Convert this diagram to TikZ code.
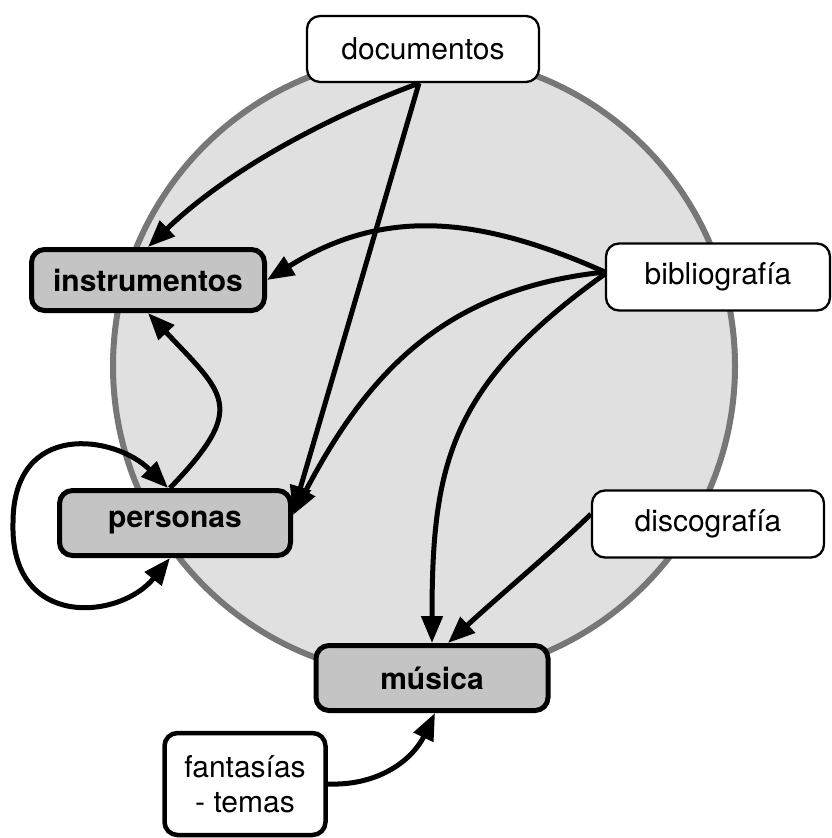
\documentclass[tikz,border=0pt]{standalone}
\usepackage{fontspec}
\setmainfont{TeX Gyre Heros}
\usetikzlibrary{arrows.meta}
\definecolor{circfill}{HTML}{E0E0E0}
\definecolor{circline}{HTML}{777777}
\definecolor{nodegray}{HTML}{C4C4C4}
\begin{document}
\begin{tikzpicture}[x=1pt,y=-1pt,
  wbox/.style={draw=black, fill=white, line width=2.3pt, rounded corners=13pt,
    font=\fontsize{30}{35}\selectfont, align=center, inner sep=0pt},
  gbox/.style={draw=black, fill=nodegray, line width=5pt, rounded corners=13pt,
    font=\fontsize{30}{35}\selectfont\bfseries, inner sep=0pt},
  edge/.style={line width=5pt, -{Triangle[length=27pt,width=21pt]}},
  loopedge/.style={line width=5pt, {Triangle[length=27pt,width=21pt]}-{Triangle[length=27pt,width=21pt]}},
]
\useasboundingbox (0,0) rectangle (831,838);
\draw[draw=circline, line width=6pt, fill=circfill] (424,366) circle[radius=311];

\node[wbox, minimum width=232pt, minimum height=66pt] (doc) at (423,49) {documentos};
\node[gbox, minimum width=233pt, minimum height=61pt] (ins) at (148,280) {instrumentos};
\node[gbox, minimum width=231pt, minimum height=65pt] (per) at (175,523) {personas};
\node[wbox, minimum width=224pt, minimum height=67pt] (bib) at (718,277) {bibliografía};
\node[wbox, minimum width=232pt, minimum height=67pt] (disc) at (708,524) {discografía};
\node[gbox, minimum width=232pt, minimum height=65pt] (mus) at (432,678) {música};
\node[wbox, minimum width=161pt, minimum height=102pt, line width=4.5pt] (fan) at (245,784) {fantasías\\- temas};
\coordinate (loopL) at (13,523);

\draw[edge] ([xshift=-4pt]doc.south) .. controls (320,120) and (225,173) .. (ins.north);
\draw[edge] ([xshift=-4pt]doc.south) -- ([yshift=10pt]per.east);
\draw[edge] ([yshift=5pt]bib.west) .. controls (479,216) and (384,207) .. (ins.east);
\draw[edge] ([yshift=5pt]bib.west) .. controls (445,289) and (368,372) .. ([yshift=8pt]per.east);
\draw[edge] ([yshift=3pt]bib.west) .. controls (450,385) and (432,463) .. (mus.north);
\draw[edge] ([yshift=10pt]disc.west) .. controls (560,545) and (500,595) .. ([xshift=16pt]mus.north);
\draw[edge] ([xshift=-5pt]per.north) .. controls (248,407) and (225,395) .. (ins.south);
\draw[loopedge] ([xshift=-5pt]per.south) .. controls (120,620) and (10,630) .. (loopL)
  .. controls (13,420) and (115,435) .. ([xshift=-7pt]per.north);
\draw[edge] (fan.east) .. controls (382,786) and (414,757) .. ([xshift=3pt]mus.south);
\end{tikzpicture}
\end{document}
